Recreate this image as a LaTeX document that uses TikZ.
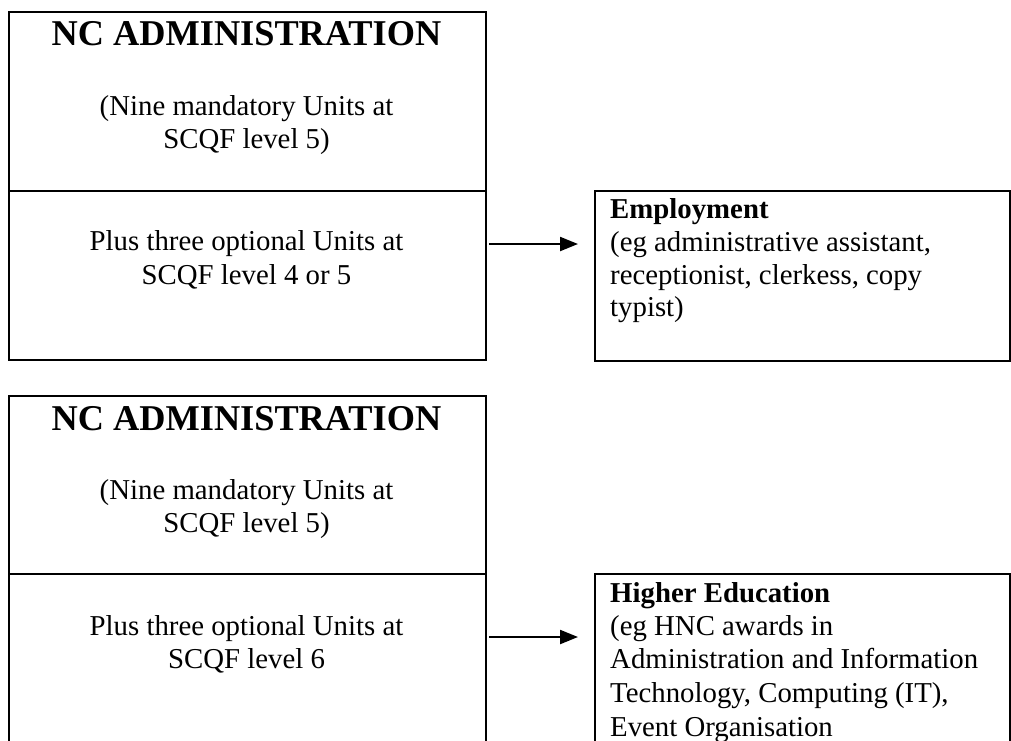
\documentclass[tikz,border=0pt]{standalone}
\usepackage{fontspec}
\setmainfont{Liberation Serif}
\usetikzlibrary{arrows.meta}
\begin{document}
\begin{tikzpicture}[x=1pt,y=-1pt,
  box/.style={draw=black,line width=2.2pt,anchor=north west,inner sep=0pt,minimum width=#1},
  ttl/.style={anchor=base,inner sep=0pt,font=\fontsize{36.3}{40}\selectfont\bfseries},
  ctr/.style={anchor=base,inner sep=0pt,font=\fontsize{28.8}{33}\selectfont},
  lft/.style={anchor=base west,inner sep=0pt,font=\fontsize{28.8}{33}\selectfont},
  conn/.style={line width=2.2pt,-{Triangle[length=18pt,width=14pt]}}]
\useasboundingbox (0,0) rectangle (1011,740);
\clip (0,0) rectangle (1011,740);
% top group
\node[box=477pt,minimum height=179pt] (t1) at (8,11) {};
\node[box=477pt,minimum height=169pt] (t2) at (8,190) {};
\node[box=415pt,minimum height=170pt] (e1) at (594,190) {};
\node[ttl] (t1a) at (246.5,45) {NC ADMINISTRATION};
\node[ctr] (t1b) at (246.5,115) {(Nine mandatory Units at};
\node[ctr] (t1c) at (246.5,148) {SCQF level 5)};
\node[ctr] (t2a) at (246.5,250) {Plus three optional Units at};
\node[ctr] (t2b) at (246.5,284) {SCQF level 4 or 5};
\node[lft,font=\fontsize{28.8}{33}\selectfont\bfseries] (e1a) at (610,218) {Employment};
\node[lft] (e1b) at (610,251) {(eg administrative assistant,};
\node[lft] (e1c) at (610,284) {receptionist, clerkess, copy};
\node[lft] (e1d) at (610,316) {typist)};
\coordinate (a1s) at (489,244);
\coordinate (a1e) at (578,244);
\draw[conn] (a1s) -- (a1e);
% bottom group
\node[box=477pt,minimum height=178pt] (b1) at (8,395) {};
\node[box=477pt,minimum height=200pt] (b2) at (8,573) {};
\node[box=415pt,minimum height=200pt] (h1) at (594,573) {};
\node[ttl] (b1a) at (246.5,430) {NC ADMINISTRATION};
\node[ctr] (b1b) at (246.5,499) {(Nine mandatory Units at};
\node[ctr] (b1c) at (246.5,532) {SCQF level 5)};
\node[ctr] (b2a) at (246.5,635) {Plus three optional Units at};
\node[ctr] (b2b) at (246.5,668) {SCQF level 6};
\node[lft,font=\fontsize{28.8}{33}\selectfont\bfseries] (h1a) at (610,602) {Higher Education};
\node[lft] (h1b) at (610,635) {(eg HNC awards in};
\node[lft] (h1c) at (610,668) {Administration and Information};
\node[lft] (h1d) at (610,702) {Technology, Computing (IT),};
\node[lft] (h1e) at (610,736) {Event Organisation};
\coordinate (a2s) at (489,637);
\coordinate (a2e) at (578,637);
\draw[conn] (a2s) -- (a2e);
\end{tikzpicture}
\end{document}
